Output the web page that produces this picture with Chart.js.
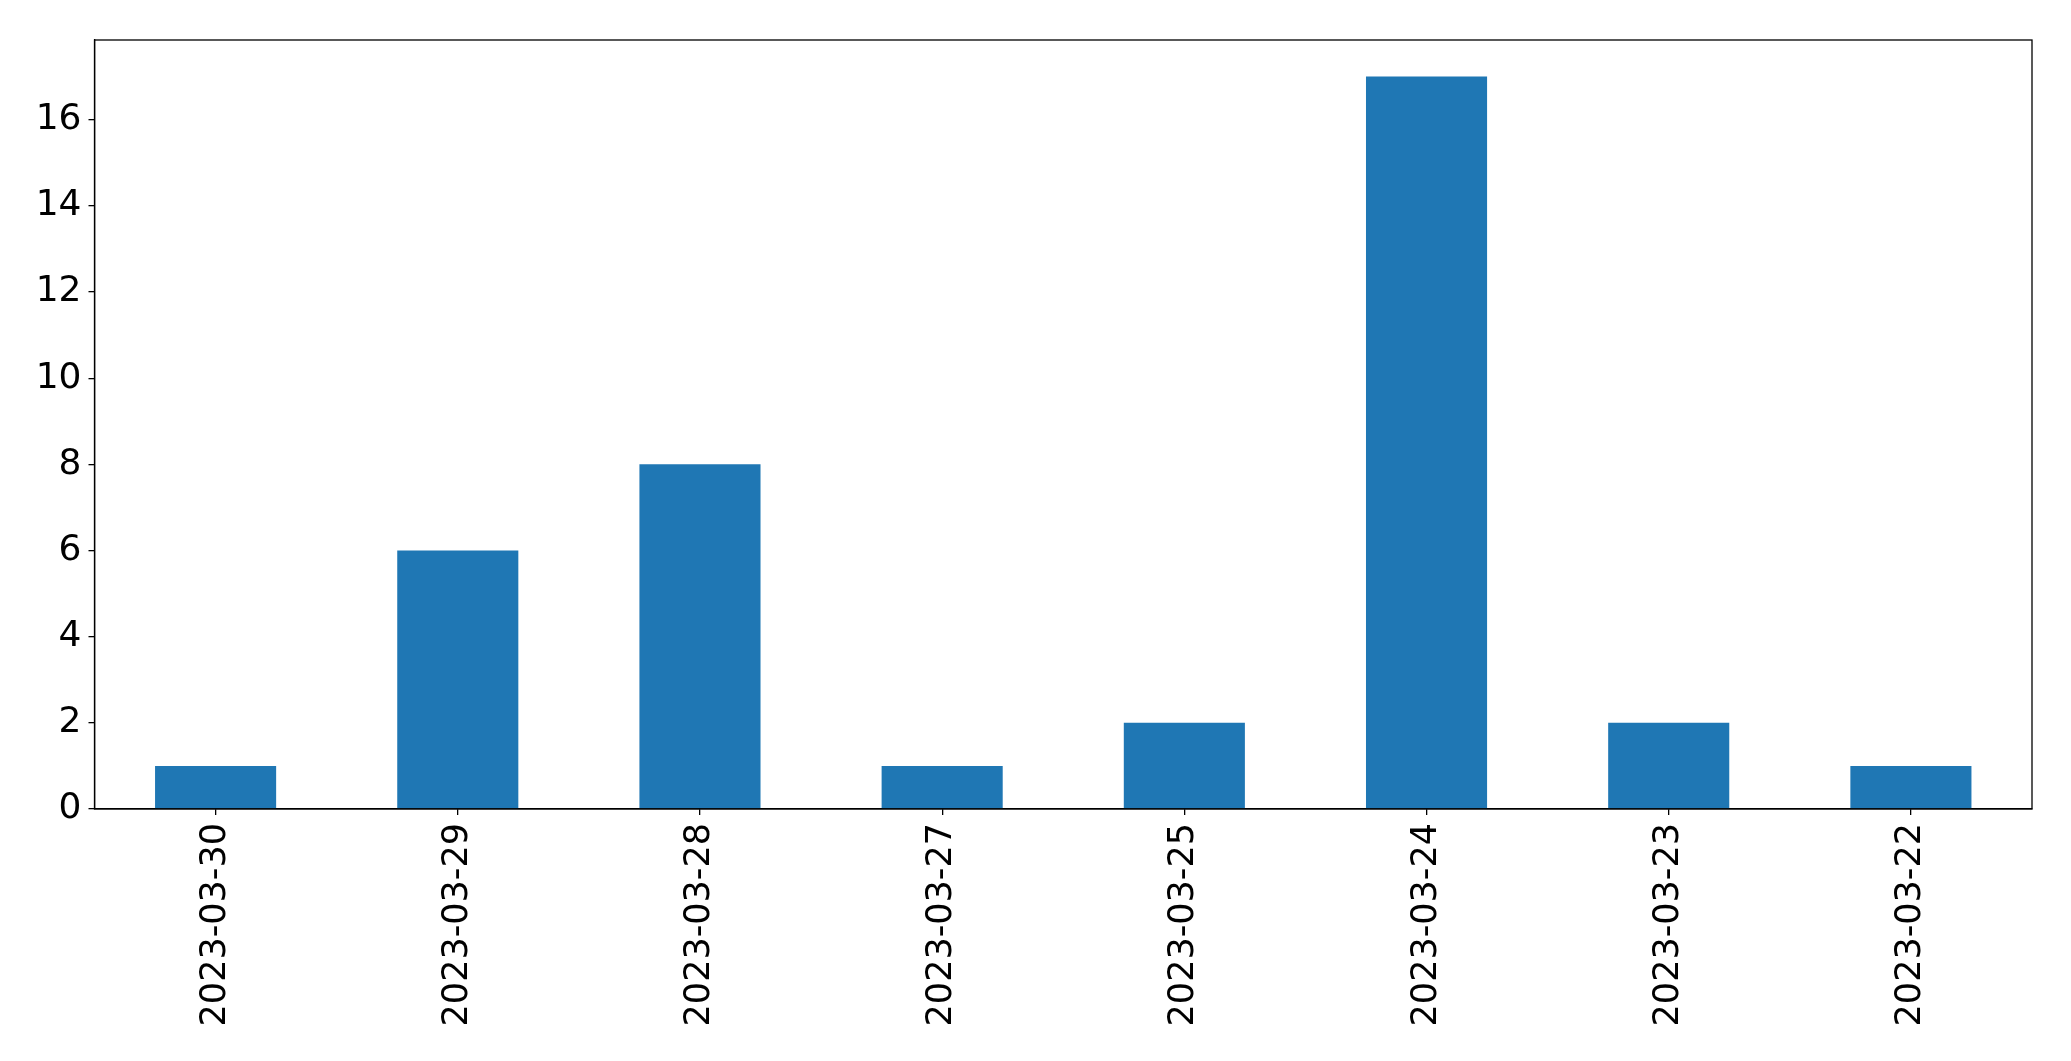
<!DOCTYPE html>
<html>
<head>
<meta charset="utf-8">
<script src="https://cdn.jsdelivr.net/npm/chart.js@4"></script>
<style>
  html, body { margin: 0; padding: 0; background: #fff; }
  #wrap { width: 2071px; height: 1061px; }
</style>
</head>
<body>
<div id="wrap"><canvas id="chart" width="2071" height="1061"></canvas></div>
<script>
// dates as they appear on the x axis
const dates = ['2023-03-30', '2023-03-29', '2023-03-28', '2023-03-27', '2023-03-25', '2023-03-24', '2023-03-23', '2023-03-22'];
const counts = [1, 6, 8, 1, 2, 17, 2, 1];
const yTicks = [0, 2, 4, 6, 8, 10, 12, 14, 16];

// box around the plot area, like the matplotlib spines
const frame = {
    id: 'frame',
    afterDraw(chart) {
        const a = chart.chartArea;
        const ctx = chart.ctx;
        ctx.save();
        ctx.strokeStyle = '#000';
        ctx.lineWidth = 1.3;
        ctx.strokeRect(a.left, a.top, a.right - a.left, a.bottom - a.top);
        ctx.restore();
    }
};

Chart.defaults.font.family = '"DejaVu Sans", sans-serif';
Chart.defaults.color = '#000';

new Chart(document.getElementById('chart'), {
    type: 'bar',
    data: {
        labels: dates,
        datasets: [{
            data: counts,
            backgroundColor: '#1f77b4',
            barPercentage: 0.5,
            categoryPercentage: 1.0
        }]
    },
    options: {
        responsive: false,
        animation: false,
        layout: { padding: { left: 0, top: 40, right: 39, bottom: 0 } },
        plugins: {
            legend: { display: false },
            tooltip: { enabled: false }
        },
        scales: {
            x: {
                offset: true,
                grid: { display: true, offset: false, drawOnChartArea: false, drawTicks: true, tickLength: 6, color: '#000', lineWidth: 1.3 },
                border: { display: true, color: '#000', width: 1.3 },
                ticks: { font: { size: 35 }, maxRotation: 90, minRotation: 90, padding: 8, autoSkip: false },
                afterFit(scale) { scale.height = 252; }
            },
            y: {
                min: 0,
                max: 17.85,
                grid: { display: true, drawOnChartArea: false, drawTicks: true, tickLength: 6, color: '#000', lineWidth: 1.3 },
                border: { display: true, color: '#000', width: 1.3 },
                ticks: { font: { size: 36 }, padding: 7 },
                afterBuildTicks(scale) { scale.ticks = yTicks.map(v => ({ value: v })); },
                afterFit(scale) { scale.width = 94.5; }
            }
        }
    },
    plugins: [frame]
});
</script>
</body>
</html>
